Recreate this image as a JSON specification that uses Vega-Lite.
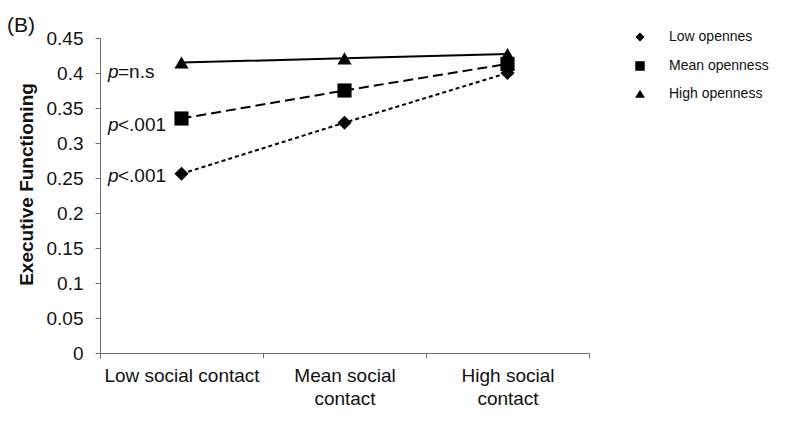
{
  "$schema": "https://vega.github.io/schema/vega-lite/v6.json",
  "width": 489,
  "height": 315,
  "autosize": {"type": "none"},
  "padding": {"left": 100, "top": 38, "right": 196, "bottom": 74},
  "background": "white",
  "config": {
    "font": "Liberation Sans",
    "view": {"stroke": null},
    "axis": {"grid": false, "domainColor": "#6f6f6f", "tickColor": "#6f6f6f", "labelColor": "#111", "titleColor": "#111", "labelFont": "Liberation Sans", "titleFont": "Liberation Sans"}
  },
  "title": {"text": "(B)", "anchor": "start", "frame": "group", "fontSize": 21, "fontWeight": "normal", "color": "#111", "dx": -93, "dy": 34, "offset": 10, "baseline": "alphabetic"},
  "resolve": {"scale": {"shape": "independent"}},
  "data": {
    "values": [
      {"contact": "Low social contact", "openness": "Low opennes", "ef": 0.256},
      {"contact": "Mean social contact", "openness": "Low opennes", "ef": 0.329},
      {"contact": "High social contact", "openness": "Low opennes", "ef": 0.400},
      {"contact": "Low social contact", "openness": "Mean openness", "ef": 0.335},
      {"contact": "Mean social contact", "openness": "Mean openness", "ef": 0.375},
      {"contact": "High social contact", "openness": "Mean openness", "ef": 0.413},
      {"contact": "Low social contact", "openness": "High openness", "ef": 0.415},
      {"contact": "Mean social contact", "openness": "High openness", "ef": 0.421},
      {"contact": "High social contact", "openness": "High openness", "ef": 0.427}
    ]
  },
  "encoding": {
    "x": {
      "field": "contact", "type": "nominal", "sort": null,
      "scale": {"type": "band", "domain": ["Low social contact", "Mean social contact", "High social contact"], "paddingInner": 0, "paddingOuter": 0},
      "axis": {"title": null, "labelAngle": 0, "labelFontSize": 19, "labelPadding": 8, "labelLineHeight": 23, "tickBand": "extent", "tickSize": 5, "labelExpr": "datum.label == 'Mean social contact' ? ['Mean social', 'contact'] : datum.label == 'High social contact' ? ['High social', 'contact'] : datum.label"}
    },
    "y": {
      "field": "ef", "type": "quantitative",
      "scale": {"domain": [0, 0.45], "nice": false},
      "axis": {"title": "Executive Functioning", "titleFontSize": 19, "titleFontWeight": "bold", "titleX": -64, "titleY": 146, "labelFontSize": 19, "labelPadding": 12, "tickSize": 5, "values": [0, 0.05, 0.1, 0.15, 0.2, 0.25, 0.3, 0.35, 0.4, 0.45], "format": "~g"}
    }
  },
  "layer": [
    {
      "transform": [{"filter": "datum.openness == 'Low opennes'"}],
      "mark": {"type": "line", "color": "black", "strokeWidth": 2, "strokeDash": [4, 3]},
      "encoding": {}
    },
    {
      "transform": [{"filter": "datum.openness == 'Mean openness'"}],
      "mark": {"type": "line", "color": "black", "strokeWidth": 2, "strokeDash": [10, 5]},
      "encoding": {}
    },
    {
      "transform": [{"filter": "datum.openness == 'High openness'"}],
      "mark": {"type": "line", "color": "black", "strokeWidth": 2},
      "encoding": {}
    },
    {
      "mark": {"type": "point", "filled": true, "color": "black", "opacity": 0, "size": 100},
      "encoding": {
        "shape": {
          "field": "openness", "type": "nominal",
          "scale": {"domain": ["Low opennes", "Mean openness", "High openness"], "range": [
            "M-4.9,0H-4.1M-3.5,0H-2.7M-2.1,0H-1.3M1.3,0H2.1M2.7,0H3.5M4.1,0H4.9M-0.9,0L0,-0.9L0.9,0L0,0.9Z",
            "M-4.9,0H-2M2,0H4.9M-0.95,-0.95H0.95V0.95H-0.95Z",
            "M-4.9,0H4.9M0,-0.85L1,0.75H-1Z"
          ]},
          "legend": {
            "title": null, "orient": "none", "legendX": 533, "legendY": -8,
            "labelFontSize": 14, "labelColor": "#111", "labelOffset": 22, "rowPadding": 13,
            "symbolSize": 100, "padding": 0, "symbolOpacity": 1,
            "symbolFillColor": "black", "symbolStrokeColor": "black", "symbolStrokeWidth": 1.3
          }
        }
      }
    },
    {
      "mark": {"type": "point", "filled": true, "color": "black", "opacity": 1, "size": 200},
      "encoding": {
        "shape": {
          "field": "openness", "type": "nominal",
          "scale": {"domain": ["High openness", "Low opennes", "Mean openness"], "range": ["triangle-up", "diamond", "square"]},
          "legend": null
        }
      }
    },
    {
      "data": {
        "values": [
          {"p": "p", "rest": "=n.s", "ypos": 0.402},
          {"p": "p", "rest": "<.001", "ypos": 0.326},
          {"p": "p", "rest": "<.001", "ypos": 0.253}
        ]
      },
      "mark": {"type": "text", "align": "left", "baseline": "middle", "fontSize": 19, "fontStyle": "italic", "color": "#111", "dx": 8},
      "encoding": {
        "x": {"datum": "Low social contact", "bandPosition": 0},
        "y": {"field": "ypos", "type": "quantitative"},
        "text": {"field": "p"}
      }
    },
    {
      "data": {
        "values": [
          {"p": "p", "rest": "=n.s", "ypos": 0.402},
          {"p": "p", "rest": "<.001", "ypos": 0.326},
          {"p": "p", "rest": "<.001", "ypos": 0.253}
        ]
      },
      "mark": {"type": "text", "align": "left", "baseline": "middle", "fontSize": 19, "color": "#111", "dx": 18},
      "encoding": {
        "x": {"datum": "Low social contact", "bandPosition": 0},
        "y": {"field": "ypos", "type": "quantitative"},
        "text": {"field": "rest"}
      }
    }
  ]
}
